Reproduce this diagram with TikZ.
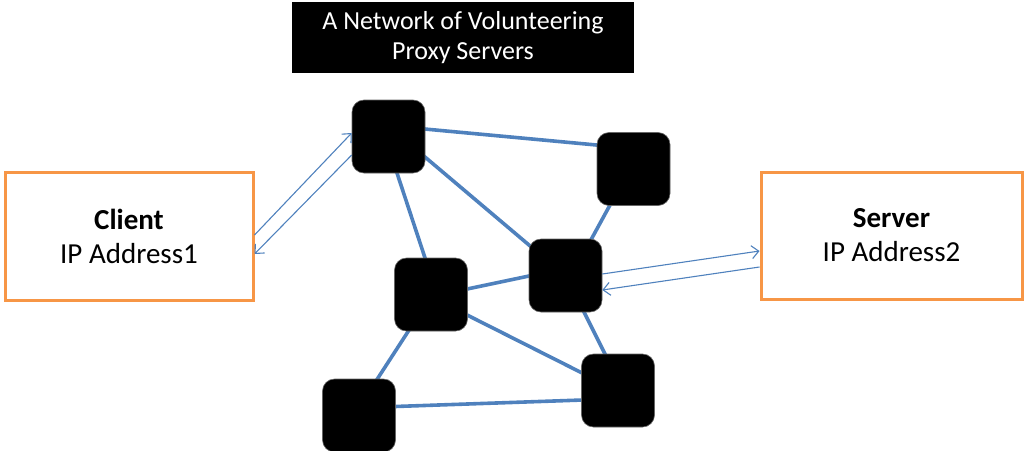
\documentclass[tikz,border=0pt]{standalone}
\usepackage{fontspec}
\setmainfont{Carlito}
\usetikzlibrary{arrows.meta,backgrounds}
\definecolor{linkblue}{HTML}{4F81BD}
\definecolor{boxorange}{HTML}{F79646}
\begin{document}
\begin{tikzpicture}[x=1pt,y=-1pt,
  proxy/.style={fill=black, draw=black!60, line width=0.6pt, rounded corners=12pt,
    minimum width=73pt, minimum height=73pt, inner sep=0pt},
  hostbox/.style={draw=boxorange, line width=3pt, align=center, inner sep=0pt,
    font=\fontsize{29}{34}\selectfont},
  banner/.style={fill=black, text=white, align=center, inner sep=0pt,
    font=\fontsize{26}{30}\selectfont},
  link/.style={draw=linkblue, line width=3.6pt},
  flow/.style={draw=linkblue, line width=1.1pt, -{Straight Barb[length=7pt,width=13pt]}},
]
\useasboundingbox (0,0) rectangle (1024,450);

% heading
\node[banner, minimum width=342pt, minimum height=71pt] (title) at (463,37.5)
  {A Network of Volunteering\\Proxy Servers};

% end hosts
\node[hostbox, minimum width=248pt, minimum height=128pt] (client) at (129,236)
  {\textbf{Client}\\IP Address1};
\node[hostbox, minimum width=261pt, minimum height=127pt] (server) at (891.5,235.5)
  {\textbf{Server}\\IP Address2};

% proxy servers
\node[proxy] (n1) at (388.5,136.5) {};
\node[proxy] (n2) at (633.5,169) {};
\node[proxy] (n3) at (565.5,275.5) {};
\node[proxy] (n4) at (431,294.5) {};
\node[proxy] (n5) at (618,390.5) {};
\node[proxy] (n6) at (359,415.5) {};

% links between proxies
\begin{scope}[on background layer]
  \draw[link] ([shift={(11.5,-9.8)}]n1.center) -- ([shift={(-13.5,-21.8)}]n2.center);
  \draw[link] ([shift={(16.5,3.6)}]n1.center) -- ([shift={(-15.5,-12.7)}]n3.center);
  \draw[link] ([shift={(0.9,13.5)}]n1.center) -- ([shift={(1.3,-14.5)}]n4.center);
  \draw[link] ([shift={(-15.3,21)}]n2.center) -- ([shift={(17.2,-20.5)}]n3.center);
  \draw[link] ([shift={(19,-1.9)}]n4.center) -- ([shift={(-15.5,-3.9)}]n3.center);
  \draw[link] ([shift={(19,11.9)}]n4.center) -- ([shift={(-18,-8.5)}]n5.center);
  \draw[link] ([shift={(10,19.5)}]n3.center) -- ([shift={(-4,-18.5)}]n5.center);
  \draw[link] ([shift={(-12.2,20.5)}]n4.center) -- ([shift={(7.6,-20)}]n6.center);
  \draw[link] ([shift={(16,-8.3)}]n6.center) -- ([shift={(-18,8.9)}]n5.center);
\end{scope}

% request / response traffic
\draw[flow] ([yshift=1pt]client.east) -- ([yshift=3.5pt]n1.west);
\draw[flow] ([yshift=-18.5pt]n1.west) -- ([yshift=-18pt]client.east);
\draw[flow] ([yshift=1.5pt]n3.east) -- ([yshift=-15.5pt]server.west);
\draw[flow] ([yshift=-31.5pt]server.west) -- ([yshift=-14.5pt]n3.east);
\end{tikzpicture}
\end{document}
